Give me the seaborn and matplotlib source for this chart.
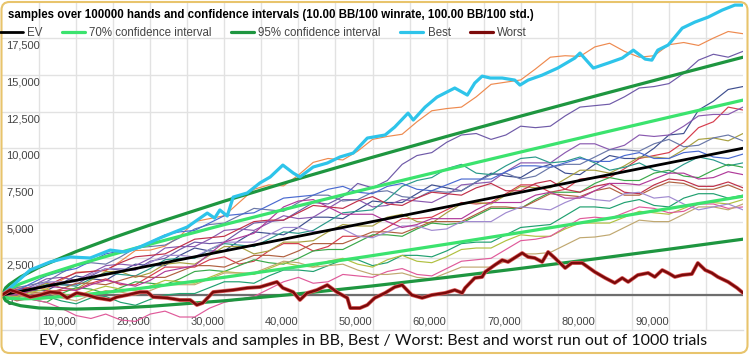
import matplotlib
matplotlib.use("Agg")
import matplotlib.pyplot as plt
from matplotlib.lines import Line2D
from matplotlib.patches import FancyBboxPatch
from matplotlib.transforms import IdentityTransform, ScaledTranslation
import seaborn as sns
import pandas as pd

# ---- data (hands, BB) ----
ev_hands = [0, 100000]
ev_bb = [0, 10000]

ci_hands = [0, 500, 1000, 2500, 5000, 10000, 15000, 20000, 30000, 40000,
            50000, 60000, 70000, 80000, 90000, 100000]
ci95_upper = [0, 488, 720, 1230, 1886, 2960, 3900, 4772, 6395, 7920,
              9383, 10801, 12186, 13544, 14880, 16198]
ci95_lower = [0, -388, -520, -730, -886, -960, -900, -772, -395, 80,
              617, 1199, 1814, 2456, 3120, 3802]
ci70_upper = [0, 282, 428, 768, 1233, 2036, 2769, 3465, 4794, 6072,
              7317, 8538, 9741, 10930, 12108, 13276]
ci70_lower = [0, -182, -228, -268, -233, -36, 231, 535, 1206, 1928,
              2683, 3462, 4259, 5070, 5892, 6724]

best_hands = [0, 3800, 6500, 9200, 11900, 14600, 16600, 18600, 21300, 23300,
              25000, 27700, 28700, 29400, 30400, 31200, 33100, 34800, 36200, 37900,
              39300, 40200, 42000, 43900, 45600, 47400, 49300, 51700, 53000, 54800,
              55500, 57100, 58700, 61100, 62100, 62800, 63800, 64800, 65900, 67500,
              69200, 69900, 71000, 72900, 75000, 77300, 78000, 79800, 81800, 83700,
              85200, 86800, 87700, 88500, 89900, 90800, 91800, 93500, 95300, 97200,
              98900, 100000]
best_bb = [0, 1700, 2250, 2590, 2520, 3060, 2930, 3270, 3880, 4290,
           4630, 5580, 5240, 5790, 5380, 6670, 6950, 7630, 8040, 8850,
           8310, 8040, 8720, 8990, 9400, 9670, 10690, 10900, 11440, 12390,
           11920, 12800, 13480, 14100, 13820, 13620, 14440, 14910, 14780, 14780,
           14640, 14300, 14640, 14980, 15460, 16140, 16480, 15460, 15800, 16140,
           16680, 16070, 16000, 16680, 17030, 17570, 18180, 18590, 18930, 19410,
           19750, 19750]

worst_hands = [0, 1100, 2400, 3800, 5100, 6500, 7800, 8800, 10100, 11500,
               12800, 14600, 15500, 16900, 18600, 19600, 20400, 22300, 24000, 25400,
               26300, 27100, 28500, 31200, 33100, 34800, 37100, 37900, 39300, 40200,
               41200, 42500, 43900, 45200, 46600, 47000, 48300, 49300, 50300, 51700,
               53000, 54000, 55300, 56700, 58000, 59800, 61100, 62100, 62500, 63800,
               64800, 65200, 66500, 67500, 68300, 70200, 71000, 71900, 72900, 73700,
               74600, 76000, 76900, 78300, 80000, 81400, 82700, 83700, 84500, 85800,
               87200, 88100, 89100, 89900, 90800, 91800, 93100, 93900, 94900, 95800,
               96600, 98000, 99200, 100000]
worst_bb = [0, 340, 140, -140, 0, 200, 140, -200, 140, 0,
            -200, -340, -140, 0, 200, 200, -140, -200, -340, -340,
            -680, -540, 200, 340, 480, 540, 890, 480, 200, -340,
            140, 340, 680, 200, -200, -890, -890, -680, -200, 140,
            540, 680, 0, -200, 0, 140, 340, 140, 480, 1160,
            1230, 1570, 2040, 2380, 2250, 2860, 2590, 2520, 2250, 2930,
            2520, 1840, 2180, 2180, 1570, 1160, 820, 1160, 890, 1360,
            1500, 1230, 1700, 1500, 1230, 1360, 1430, 2180, 1700, 1500,
            1230, 890, 480, 140]

sample_hands = [0, 2000, 4000, 6000, 8000, 10000, 12000, 14000, 16000, 18000,
                20000, 22000, 24000, 26000, 28000, 30000, 32000, 34000, 36000, 38000,
                40000, 42000, 44000, 46000, 48000, 50000, 52000, 54000, 56000, 58000,
                60000, 62000, 64000, 66000, 68000, 70000, 72000, 74000, 76000, 78000,
                80000, 82000, 84000, 86000, 88000, 90000, 92000, 94000, 96000, 98000,
                100000]
s01 = [0, 550, 500, 400, 1000, 1550, 1600, 1650, 2300, 3030, 3060, 3330, 4000, 5000, 5200,
       5400, 6300, 7200, 7500, 7435, 8170, 9035, 9300, 9200, 9800, 10600, 10800, 10950, 11800,
       12550, 12700, 12800, 13500, 14350, 14500, 14650, 15400, 16200, 16300, 16250, 16900,
       17150, 16600, 16200, 16300, 17050, 17200, 17000, 17500, 17950, 17800]
s02 = [0, -200, 400, 850, 700, 700, 1300, 1800, 1700, 1700, 2300, 2500, 3100, 3600, 3500,
       3600, 4300, 4900, 5000, 5100, 5700, 6300, 6200, 6700, 7600, 7300, 7800, 8900, 9500,
       9700, 10400, 10900, 11000, 10600, 10900, 11500, 11400, 11500, 12200, 12800, 12900,
       13000, 13500, 14100, 14200, 14400, 15100, 16000, 16400, 16200, 16600]
s03 = [0, 350, 300, 300, 800, 1300, 1100, 1000, 1600, 2100, 2000, 2000, 2700, 3200, 3000,
       3000, 3700, 4300, 4200, 4100, 4600, 5300, 5300, 5200, 5800, 6400, 6300, 6300, 6900,
       7500, 7300, 7100, 7700, 8300, 8100, 8000, 8600, 8900, 8300, 8200, 8900, 9500, 9300,
       9300, 10000, 10900, 11000, 12600, 13200, 14000, 14200]
s04 = [0, -400, -200, 300, 300, 350, 800, 1100, 700, 700, 1300, 1900, 1900, 1900, 2400,
       2600, 2100, 2300, 3000, 3500, 3500, 3000, 3300, 4000, 4000, 4000, 4600, 5200, 5200,
       5300, 5800, 6300, 6200, 6300, 6900, 7500, 7500, 7000, 7200, 7900, 8000, 8000, 8600,
       9300, 9500, 9700, 10400, 11400, 11800, 12800, 12600]
s05 = [0, 200, 600, 1100, 1200, 1000, 1500, 2000, 2100, 2000, 2500, 3200, 3300, 3300, 3800,
       4400, 4500, 4400, 4900, 5400, 5200, 5300, 5900, 6500, 6500, 6000, 6100, 6500, 6400,
       6300, 6800, 7500, 7600, 7700, 8400, 9000, 9000, 9000, 9700, 10300, 10300, 9900, 10200,
       10900, 10800, 10900, 11500, 12200, 12300, 12300, 12800]
s06 = [0, -100, 400, 800, 500, 400, 1000, 1600, 1600, 1200, 1500, 2100, 2200, 2100, 2700,
       3300, 3300, 2800, 3000, 3600, 3600, 3700, 4300, 4800, 4700, 4700, 5300, 5500, 5000,
       4900, 5600, 6200, 6300, 6200, 6800, 7400, 7300, 7300, 7900, 8500, 8500, 8300, 8800,
       9400, 9400, 9300, 9900, 10600, 10700, 10500, 11000]
s07 = [0, 500, 700, 900, 1500, 2000, 2200, 2100, 2600, 3200, 3300, 3400, 3900, 4500, 4800,
       4900, 5400, 5900, 5800, 5700, 6300, 6800, 6800, 6400, 6500, 7000, 7100, 6700, 6600,
       7100, 7000, 7100, 7700, 8200, 8300, 7900, 8100, 8700, 8900, 8900, 9400, 9900, 9900,
       9800, 10300, 10600, 10100, 10200, 10700, 10900, 10500]
s08 = [0, -200, 300, 700, 700, 600, 1100, 1500, 1400, 1300, 1800, 2400, 2500, 2500, 3100,
       3500, 3400, 3300, 3800, 4300, 4200, 4400, 5000, 5600, 5700, 5800, 6500, 7400, 7800,
       8000, 8600, 8900, 8300, 8200, 8800, 9300, 9400, 9000, 9100, 9400, 9000, 8500, 8700,
       9000, 8500, 8300, 8900, 9400, 9200, 8800, 9000]
s09 = [0, 100, -300, -500, 100, 500, 400, 100, 500, 900, 800, 700, 1100, 1600, 1700,
       1600, 2000, 2400, 2200, 2100, 2500, 3000, 3100, 3100, 3600, 4100, 4100, 4000, 4500,
       4900, 4800, 4900, 5400, 5900, 5900, 5900, 6500, 7000, 7000, 7000, 7600, 8000, 7800,
       7800, 8300, 8500, 8100, 8000, 8500, 8900, 8700]
s10 = [0, 400, 500, 600, 1100, 1500, 1600, 1700, 2200, 2600, 2700, 2800, 3300, 3800, 3900,
       4000, 4500, 5000, 5100, 5100, 5600, 6100, 6000, 5900, 6400, 6700, 6200, 6100, 6600,
       7000, 6900, 6800, 7300, 7600, 7100, 7100, 7600, 7800, 7200, 7000, 7400, 7600, 7000,
       6900, 7500, 7900, 7800, 7400, 7400, 7700, 7300]
s11 = [0, 300, 200, 100, 400, 800, 800, 700, 1000, 1300, 1200, 1200, 1600, 2000, 2000,
       1900, 2300, 2700, 2700, 2600, 3000, 3500, 3500, 3500, 3900, 4300, 4300, 4200, 4600,
       5000, 5000, 5000, 5500, 6000, 6000, 5900, 6400, 6900, 6800, 6700, 7100, 7300, 6800,
       6800, 7300, 7700, 7600, 7200, 7200, 7500, 7100]
s12 = [0, 200, -100, -100, -400, -600, -200, -100, -500, -700, -300, 0, 100, 100, 500,
       900, 900, 800, 1300, 1700, 1700, 1600, 2000, 2400, 2400, 2000, 2200, 2700, 2700,
       2600, 3000, 3500, 3600, 3600, 4100, 4600, 4700, 4800, 5400, 6000, 6000, 5900, 6300,
       6500, 6100, 6000, 6600, 6900, 6900, 6600, 6800]
s13 = [0, -100, 200, 400, 100, -100, 300, 600, 400, 300, 600, 1000, 900, 800, 1200,
       1600, 1500, 1400, 1800, 2200, 2000, 1900, 2300, 2500, 2100, 1900, 2400, 2700, 2300,
       2200, 2600, 3100, 3200, 3200, 3700, 4100, 4000, 4000, 4500, 4900, 4900, 4900, 5300,
       5700, 5600, 5500, 5900, 6300, 6300, 6200, 6500]
s14 = [0, 100, -300, -500, -900, -1400, -1600, -1300, -1700, -1800, -1300, -1100, -1500,
       -1500, -900, -500, -300, -100, 400, 900, 1200, 800, 900, 1400, 1300, 1200, 1600,
       1800, 1400, 1300, 1800, 2300, 2400, 2500, 3100, 3700, 3800, 4000, 4600, 5200, 5300,
       5200, 5600, 6000, 5900, 5600, 5700, 6200, 6200, 5900, 6000]
s15 = [0, -200, 100, 200, -200, -400, 0, 300, 200, 0, 300, 700, 700, 700, 1100,
       1500, 1500, 1500, 1900, 2300, 2200, 1900, 2000, 2100, 1700, 1400, 1400, 1500, 1200,
       1100, 1500, 1900, 1900, 1900, 2300, 2800, 2800, 2900, 3400, 3900, 3950, 4100, 4600,
       5100, 5000, 5000, 5500, 6000, 6000, 5800, 6200]
s16 = [0, 100, 500, 900, 900, 900, 1400, 1800, 1800, 1700, 2200, 2700, 2700, 2600, 3100,
       3600, 3600, 3600, 4100, 4600, 4600, 4300, 4400, 4500, 4000, 3900, 4300, 4700, 4700,
       4400, 4500, 5000, 5000, 5000, 5600, 6000, 5900, 5800, 6300, 6700, 6500, 6400, 6900,
       7000, 6600, 6700, 6200, 5800, 6000, 6200, 5800]
s17 = [0, 0, 300, 600, 500, 300, 700, 1000, 800, 600, 1000, 1600, 1800, 2000, 2800,
       3600, 3900, 4200, 5100, 6000, 6400, 6500, 6000, 5500, 5500, 5500, 5000, 4600, 4800,
       5200, 5200, 5200, 5800, 6300, 6300, 6300, 6800, 7000, 6600, 6600, 7100, 7600, 7600,
       7500, 7900, 8300, 8300, 7900, 8000, 8400, 8200]
s18 = [0, 300, 800, 1300, 1600, 1800, 2300, 2800, 3000, 3100, 3600, 4100, 4300, 4400, 4900,
       5400, 5500, 5600, 6100, 6600, 6700, 6800, 7200, 7400, 7000, 6900, 7400, 7600, 7200,
       7100, 7500, 7900, 7900, 7900, 8400, 8800, 8800, 8700, 9000, 9300, 9100, 9100, 9500,
       9700, 9300, 9300, 9700, 9800, 9400, 9300, 9600]
samples = [s01, s02, s03, s04, s05, s06, s07, s08, s09, s10,
           s11, s12, s13, s14, s15, s16, s17, s18]
sample_colors = ['#ee8a4f', '#6f5aa8', '#3f4f8f', '#d63c4c', '#8a5ab0', '#a8a040',
                 '#6a78a8', '#2a9a8a', '#3aa84a', '#c0304a', '#b06040', '#20a070',
                 '#b0c040', '#e05a9a', '#c0a870', '#a08ad0', '#b03a9a', '#4a6ad0']

x_ticks = [10000, 20000, 30000, 40000, 50000, 60000, 70000, 80000, 90000]
x_labels = ['10,000', '20,000', '30,000', '40,000', '50,000', '60,000', '70,000', '80,000', '90,000']
x_minor = [5000, 15000, 25000, 35000, 45000, 55000, 65000, 75000, 85000, 95000]
y_ticks = [0, 2500, 5000, 7500, 10000, 12500, 15000, 17500]
y_labels = ['0', '2,500', '5,000', '7,500', '10,000', '12,500', '15,000', '17,500']

title = ("samples over 100000 hands and confidence intervals "
         "(10.00 BB/100 winrate, 100.00 BB/100 std.)")
caption = ("EV, confidence intervals and samples in BB, Best / Worst: "
           "Best and worst run out of 1000 trials")

# ---- plot ----
sns.set_theme(style="white")
plt.rcParams['font.family'] = ['Liberation Sans', 'DejaVu Sans']

W, H = 750, 355
fig = plt.figure(figsize=(W / 100, H / 100), dpi=100)
fig.patch.set_facecolor('white')
ax = fig.add_axes([2 / W, (H - 330) / H, 741 / W, 328 / H])

ax.axhline(0, color='#6e6e6e', lw=1.6, zorder=1)

frames = []
for i, vals in enumerate(samples):
    frames.append(pd.DataFrame({'hands': sample_hands, 'bb': vals, 'run': 'r%02d' % i}))
df = pd.concat(frames, ignore_index=True)
sns.lineplot(data=df, x='hands', y='bb', hue='run', palette=sample_colors,
             linewidth=0.85, legend=False, estimator=None, ax=ax, zorder=2)

green70 = '#3be36e'
green95 = '#1e9640'
for vals, col in [(ci70_upper, green70), (ci70_lower, green70),
                  (ci95_upper, green95), (ci95_lower, green95)]:
    sns.lineplot(x=ci_hands, y=vals, color=col, linewidth=2.3, ax=ax, zorder=3)
sns.lineplot(x=ev_hands, y=ev_bb, color='black', linewidth=2.0, ax=ax, zorder=4)
sns.lineplot(x=best_hands, y=best_bb, color='#2ec4ea', linewidth=2.3, ax=ax, zorder=5)
sns.lineplot(x=worst_hands, y=worst_bb, color='#e06060', linewidth=2.8, ax=ax, zorder=5)
sns.lineplot(x=worst_hands, y=worst_bb, color='#7c0a0a', linewidth=1.8, ax=ax, zorder=6)

ax.set_xlim(0, 100000)
ax.set_ylim(-2385, 19960)
ax.set_xlabel('')
ax.set_ylabel('')

ax.set_xticks(x_ticks)
ax.set_xticklabels(x_labels)
ax.set_xticks(x_minor, minor=True)
ax.set_yticks(y_ticks)
ax.set_yticklabels(y_labels)
ax.grid(True, which='both', color='#e2e2e2', lw=1.0, zorder=0)
ax.set_axisbelow(True)
ax.tick_params(axis='both', which='both', length=0, labelsize=8, labelcolor='#444444')
ax.tick_params(axis='x', pad=-9.5)
ax.tick_params(axis='y', pad=-3)
for lab in ax.get_xticklabels():
    lab.set_horizontalalignment('right')
shift_down = ScaledTranslation(0, -0.025, fig.dpi_scale_trans)
for lab in ax.get_yticklabels():
    lab.set_horizontalalignment('left')
    lab.set_verticalalignment('top')
    lab.set_transform(lab.get_transform() + shift_down)
for side in ['top', 'left', 'right']:
    ax.spines[side].set_visible(False)
ax.spines['bottom'].set_color('#dddddd')
ax.spines['bottom'].set_linewidth(1.0)

fig.text(8 / W, 1 - 15 / H, title, ha='left', va='center',
         fontsize=8.3, fontweight='bold', color='black')

handles = [Line2D([], [], color='black', lw=2.0),
           Line2D([], [], color=green70, lw=2.3),
           Line2D([], [], color=green95, lw=2.3),
           Line2D([], [], color='#2ec4ea', lw=2.3),
           Line2D([], [], color='#7c0a0a', lw=2.3)]
labels = ['EV', '70% confidence interval', '95% confidence interval', 'Best', 'Worst']
fig.legend(handles, labels, loc='center left', bbox_to_anchor=(0.0, 1 - 33 / H),
           ncol=5, frameon=False, fontsize=8.3, handlelength=2.0, handletextpad=0.35,
           columnspacing=1.7, borderpad=0, borderaxespad=0, labelcolor='#444444')

fig.text(0.497, 1 - 341 / H, caption, ha='center', va='center',
         fontsize=11.5, family=['Lato', 'DejaVu Sans'], color='#111111')

border = FancyBboxPatch((1.5, 2.0), W - 4, H - 4,
                        boxstyle='round,pad=0,rounding_size=8',
                        transform=IdentityTransform(), fill=False,
                        edgecolor='#e8c46c', lw=1.5)
fig.patches.append(border)

fig.savefig('out.png', dpi=100)
